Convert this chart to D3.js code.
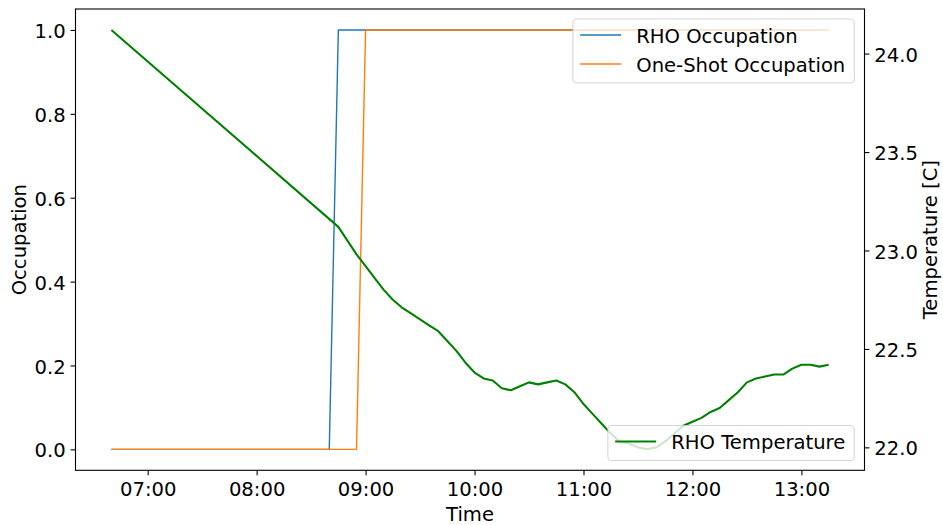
<!DOCTYPE html>
<html>
<head>
<meta charset="utf-8">
<script src="https://cdn.jsdelivr.net/npm/d3@7"></script>
<style>
  html, body { margin: 0; padding: 0; background: #fff; }
  text { font-family: "DejaVu Sans", sans-serif; fill: #000; }
</style>
</head>
<body>
<svg id="chart" width="943" height="525"></svg>
<script>
// Occupation series (0 = empty, 1 = occupied)
const rhoOccTimes = ["06:40", "08:40", "08:45", "13:15"];
const rhoOccValues = [0, 0, 1, 1];
const oneShotTimes = ["06:40", "08:55", "09:00", "13:15"];
const oneShotValues = [0, 0, 1, 1];

// Room temperature [C]
const tempTimes = ["06:40", "08:45", "08:50", "08:55", "09:00", "09:05", "09:10", "09:15",
  "09:20", "09:25", "09:30", "09:35", "09:40", "09:45", "09:50", "09:55", "10:00", "10:05",
  "10:10", "10:15", "10:20", "10:25", "10:30", "10:35", "10:40", "10:45", "10:50", "10:55",
  "11:00", "11:05", "11:10", "11:15", "11:20", "11:25", "11:30", "11:35", "11:40", "11:45",
  "11:50", "11:55", "12:00", "12:05", "12:10", "12:15", "12:20", "12:25", "12:30", "12:35",
  "12:40", "12:45", "12:50", "12:55", "13:00", "13:05", "13:10", "13:15"];
const tempValues = [24.12, 23.12, 23.05, 22.98, 22.92, 22.86, 22.80, 22.75,
  22.71, 22.68, 22.65, 22.62, 22.59, 22.54, 22.49, 22.43, 22.38, 22.35,
  22.34, 22.30, 22.29, 22.31, 22.33, 22.32, 22.33, 22.34, 22.32, 22.28,
  22.22, 22.17, 22.12, 22.07, 22.03, 22.02, 22.00, 21.99, 22.00, 22.03,
  22.07, 22.11, 22.13, 22.15, 22.18, 22.20, 22.24, 22.28, 22.33, 22.35,
  22.36, 22.37, 22.37, 22.40, 22.42, 22.42, 22.41, 22.42];

// Tick labels
const timeTicks = ["07:00", "08:00", "09:00", "10:00", "11:00", "12:00", "13:00"];
const occTicks = [0.0, 0.2, 0.4, 0.6, 0.8, 1.0];
const tempTicks = [22.0, 22.5, 23.0, 23.5, 24.0];

const parseTime = d3.timeParse("%Y-%m-%d %H:%M");
const toDate = s => parseTime("2021-01-01 " + s);

const FS = 19.6;
const plot = { left: 75.5, right: 864.5, top: 9, bottom: 470.3 };
const svg = d3.select("#chart");

// padded extent, 5% each side
function padded(ext) {
  const p = (ext[1] - ext[0]) * 0.05;
  return [ext[0] - p, ext[1] + p];
}

const allTimes = rhoOccTimes.concat(oneShotTimes, tempTimes).map(toDate);
const tExt = d3.extent(allTimes);
const tPad = (tExt[1] - tExt[0]) * 0.05;
const x = d3.scaleTime()
  .domain([new Date(+tExt[0] - tPad), new Date(+tExt[1] + tPad)])
  .range([plot.left, plot.right]);
const yOcc = d3.scaleLinear()
  .domain(padded(d3.extent(rhoOccValues.concat(oneShotValues))))
  .range([plot.bottom, plot.top]);
const yTemp = d3.scaleLinear()
  .domain(padded(d3.extent(tempValues)))
  .range([plot.bottom, plot.top]);

function series(times, values) {
  return times.map((t, i) => ({ t: toDate(t), v: values[i] }));
}

// occupation lines
const occLine = d3.line().x(d => x(d.t)).y(d => yOcc(d.v));
svg.append("path").datum(series(rhoOccTimes, rhoOccValues))
  .attr("d", occLine).attr("fill", "none")
  .attr("stroke", "#1f77b4").attr("stroke-width", 1.4).attr("stroke-linejoin", "round");
svg.append("path").datum(series(oneShotTimes, oneShotValues))
  .attr("d", occLine).attr("fill", "none")
  .attr("stroke", "#ff7f0e").attr("stroke-width", 1.4).attr("stroke-linejoin", "round");

// legend helper
function legend(entries, rightEdge, top) {
  const g = svg.append("g");
  const rowH = 29;
  const texts = entries.map((e, i) => g.append("text")
    .attr("font-size", FS).text(e.label));
  const w = d3.max(texts, t => t.node().getComputedTextLength());
  const left = rightEdge - 9 - w - 63.3;
  const h = 14.5 + rowH * (entries.length - 1) + 20.5;
  g.insert("rect", ":first-child")
    .attr("x", left).attr("y", top).attr("width", rightEdge - left).attr("height", h)
    .attr("rx", 3.9).attr("ry", 3.9)
    .attr("fill", "rgba(255,255,255,0.8)")
    .attr("stroke", "rgba(204,204,204,0.8)").attr("stroke-width", 1.1);
  entries.forEach((e, i) => {
    const cy = top + 16 + i * rowH;
    g.append("line").attr("x1", left + 7.3).attr("x2", left + 48.3)
      .attr("y1", cy).attr("y2", cy)
      .attr("stroke", e.color).attr("stroke-width", e.width);
    texts[i].attr("x", left + 63.3).attr("y", cy + 7.6);
  });
}

legend([
  { label: "RHO Occupation", color: "#1f77b4", width: 1.4 },
  { label: "One-Shot Occupation", color: "#ff7f0e", width: 1.4 }
], 854.3, 19);

// temperature line (secondary axis)
const tempLine = d3.line().x(d => x(d.t)).y(d => yTemp(d.v));
svg.append("path").datum(series(tempTimes, tempValues))
  .attr("d", tempLine).attr("fill", "none")
  .attr("stroke", "green").attr("stroke-width", 2.08).attr("stroke-linejoin", "round");

legend([{ label: "RHO Temperature", color: "green", width: 2.08 }], 854.3, 425.5);

// frame
svg.append("rect")
  .attr("x", plot.left).attr("y", plot.top)
  .attr("width", plot.right - plot.left).attr("height", plot.bottom - plot.top)
  .attr("fill", "none").attr("stroke", "#000").attr("stroke-width", 1.1);

// axes
const tickLen = 4.9, tickPad = 4.9;
const xAxis = d3.axisBottom(x)
  .tickValues(timeTicks.map(toDate))
  .tickFormat(d3.timeFormat("%H:%M"))
  .tickSize(tickLen).tickPadding(tickPad);
const gx = svg.append("g").attr("transform", `translate(0,${plot.bottom})`).call(xAxis);

const yAxisL = d3.axisLeft(yOcc).tickValues(occTicks).tickFormat(d3.format(".1f"))
  .tickSize(tickLen).tickPadding(tickPad);
const gyl = svg.append("g").attr("transform", `translate(${plot.left},0)`).call(yAxisL);

const yAxisR = d3.axisRight(yTemp).tickValues(tempTicks).tickFormat(d3.format(".1f"))
  .tickSize(tickLen).tickPadding(tickPad);
const gyr = svg.append("g").attr("transform", `translate(${plot.right},0)`).call(yAxisR);

[gx, gyl, gyr].forEach(g => {
  g.select(".domain").remove();
  g.selectAll(".tick line").attr("stroke", "#000").attr("stroke-width", 1.1);
  g.selectAll(".tick text").attr("font-size", FS).attr("font-family", "DejaVu Sans").attr("fill", "#000");
});
gx.selectAll(".tick text").attr("dy", null).attr("y", 26.1);
gyl.selectAll(".tick text").attr("dy", null).attr("y", 7.6);
gyr.selectAll(".tick text").attr("dy", null).attr("y", 7.6);

// axis titles
svg.append("text").attr("x", (plot.left + plot.right) / 2).attr("y", 520.7)
  .attr("text-anchor", "middle").attr("font-size", FS).text("Time");
svg.append("text").attr("transform", `translate(25.5,${(plot.top + plot.bottom) / 2}) rotate(-90)`)
  .attr("text-anchor", "middle").attr("font-size", FS).text("Occupation");
svg.append("text").attr("transform", `translate(937.3,${(plot.top + plot.bottom) / 2}) rotate(-90)`)
  .attr("text-anchor", "middle").attr("font-size", FS).text("Temperature [C]");
</script>
</body>
</html>
